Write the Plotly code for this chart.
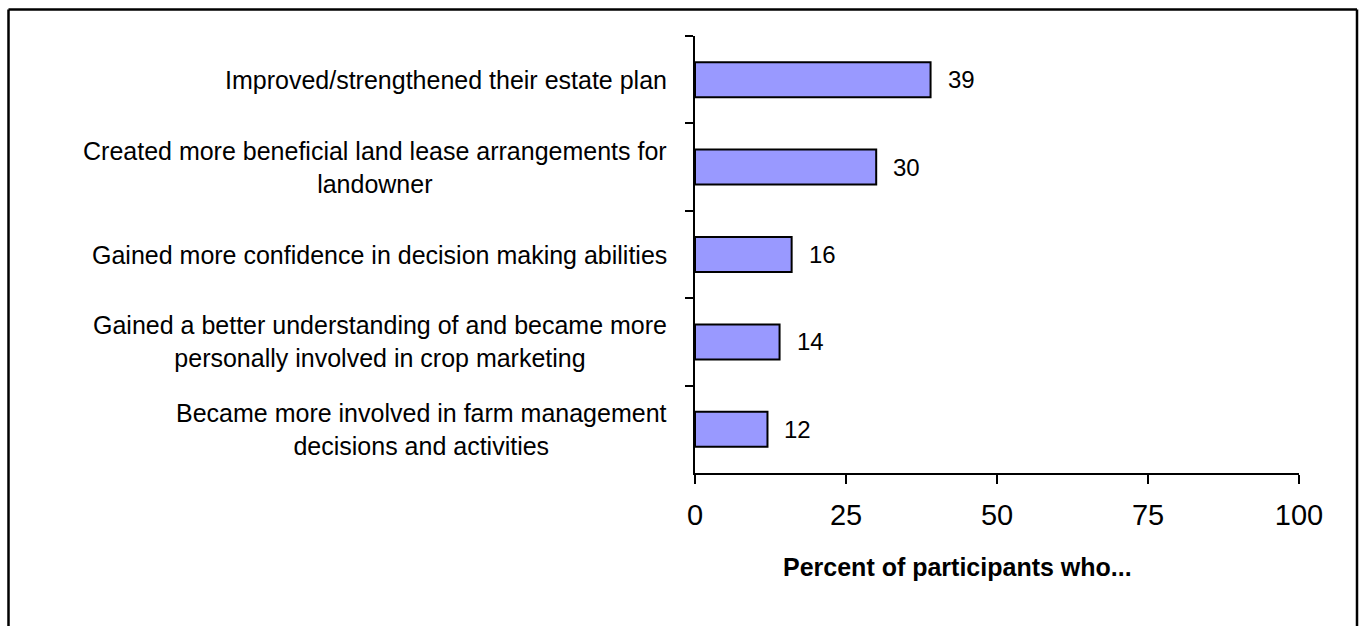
import plotly.graph_objects as go

# ---- data ----
categories = [
    "Improved/strengthened their estate plan",
    "Created more beneficial land lease arrangements for<br>landowner",
    "Gained more confidence in decision making abilities",
    "Gained a better understanding of and became more<br>personally involved in crop marketing",
    "Became more involved in farm management<br>decisions and activities",
]
values = [39, 30, 16, 14, 12]
x_ticks = [0, 25, 50, 75, 100]
x_title = "Percent of participants who..."

# ---- layout constants (pixels) ----
W, H = 1364, 626
PL, PR, PT, PB = 695, 1299, 36, 473
FONT = "Liberation Sans, Arial, sans-serif"
LABEL_SIZE = 25


def px_to_paper_x(px):
    return (px - PL) / (PR - PL)


def px_to_paper_y(py):
    return (PB - py) / (PB - PT)


fig = go.Figure()
fig.add_trace(go.Bar(
    x=values, y=categories, orientation="h",
    marker=dict(color="#9999FF", line=dict(color="black", width=2)),
    width=0.4, hoverinfo="x",
))

annotations = []
# category labels: centered multi-line blocks, right edge near the axis
for c in categories:
    annotations.append(dict(
        x=0, y=c, xref="paper", yref="y", text=c, showarrow=False,
        xanchor="right", yanchor="middle", align="center", xshift=-26,
        font=dict(family=FONT, size=LABEL_SIZE, color="black"),
    ))
# value labels
for c, v in zip(categories, values):
    annotations.append(dict(
        x=v, y=c, xref="x", yref="y", text=str(v), showarrow=False,
        xanchor="left", yanchor="middle", xshift=15,
        font=dict(family=FONT, size=24, color="black"),
    ))
# x axis title
annotations.append(dict(
    x=px_to_paper_x(957), y=px_to_paper_y(567), xref="paper", yref="paper",
    text="<b>" + x_title + "</b>", showarrow=False,
    xanchor="center", yanchor="middle",
    font=dict(family=FONT, size=25, color="black"),
))

# outer frame (left, top, right; bottom is off-page)
bx0, bx1, by0, by1 = px_to_paper_x(8.5), px_to_paper_x(1357), px_to_paper_y(660), px_to_paper_y(9.5)
frame = dict(type="line", xref="paper", yref="paper", line=dict(color="black", width=2.5))
shapes = [
    dict(frame, x0=bx0, x1=bx0, y0=by0, y1=by1),
    dict(frame, x0=bx0, x1=bx1, y0=by1, y1=by1),
    dict(frame, x0=bx1, x1=bx1, y0=by0, y1=by1),
]

fig.update_layout(
    width=W, height=H,
    margin=dict(l=PL, r=W - PR, t=PT, b=H - PB, pad=0),
    paper_bgcolor="white", plot_bgcolor="white",
    showlegend=False,
    font=dict(family=FONT, color="black"),
    annotations=annotations,
    shapes=shapes,
    xaxis=dict(
        range=[0, 100], tickvals=x_ticks, ticktext=[str(t) for t in x_ticks],
        showline=True, linecolor="black", linewidth=2,
        ticks="outside", ticklen=9, tickwidth=2, tickcolor="black",
        showgrid=False, zeroline=False,
        tickfont=dict(family=FONT, size=29, color="black"),
        ticklabelstandoff=6,
    ),
    yaxis=dict(
        autorange="reversed", type="category", categoryorder="array", categoryarray=categories,
        showline=True, linecolor="black", linewidth=2,
        ticks="outside", ticklen=8, tickwidth=2, tickcolor="black",
        tickson="boundaries", showticklabels=False, showgrid=False,
    ),
)

fig.write_html("out.html")
